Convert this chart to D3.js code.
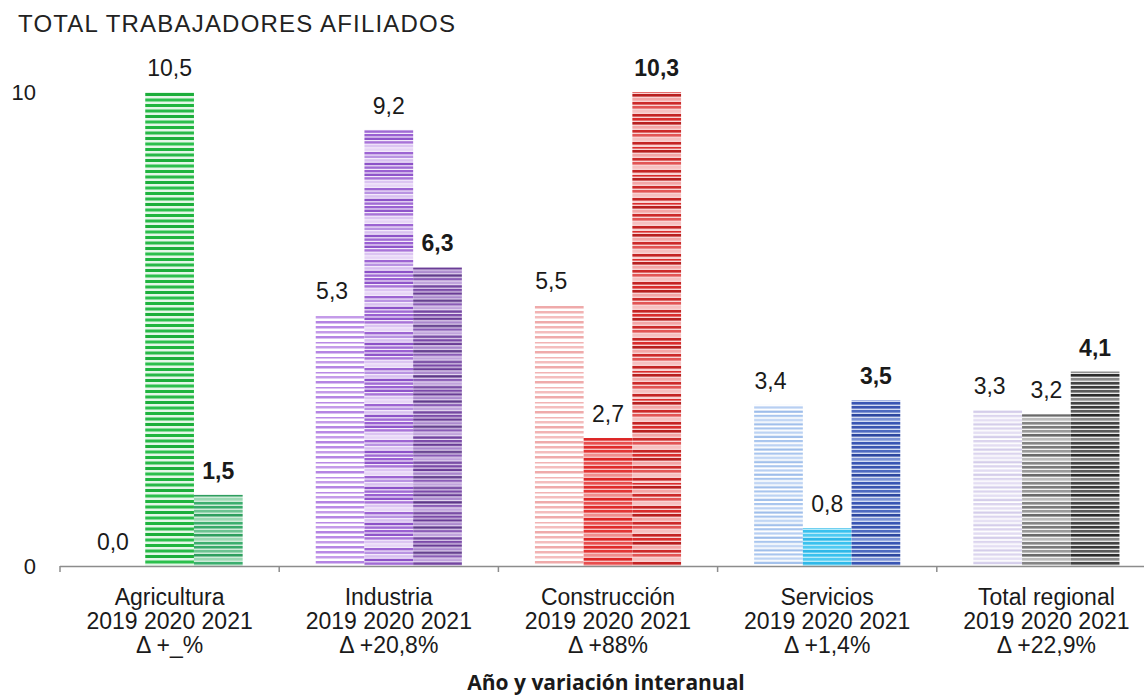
<!DOCTYPE html>
<html>
<head>
<meta charset="utf-8">
<script src="https://cdn.jsdelivr.net/npm/d3@7"></script>
<style>
    body { margin: 0; background: #fff; }
    text { font-family: "Liberation Sans", Arial, sans-serif; fill: #1a1a1a; }
    .title { font-size: 24px; letter-spacing: 1.2px; fill: #222; }
    .val { font-size: 23px; }
    .val.bold { font-weight: bold; }
    .tick-lbl { font-size: 22px; }
    .cat { font-size: 23px; }
    .xtitle { font-family: "Open Sans", sans-serif; font-weight: 700; font-size: 21px; }
</style>
</head>
<body>
<div id="chart"></div>
<script>

// data
var categories = ["Agricultura", "Industria", "Construcción", "Servicios", "Total regional"]
var years = ["2019", "2020", "2021"]
var v2019 = [0.0, 5.3, 5.5, 3.4, 3.3]
var v2020 = [10.5, 9.2, 2.7, 0.8, 3.2]
var v2021 = [1.5, 6.3, 10.3, 3.5, 4.1]
var variations = ["+_%", "+20,8%", "+88%", "+1,4%", "+22,9%"]
var yTicks = [0, 10]

var series = {"2019": v2019, "2020": v2020, "2021": v2021}

// striped fills, one per category/year (background, stripe colours, pitch, stripe height)
var stripes = {
    "0-2020": ["#e4f7e8", ["#1fb53f", "#27b947", "#1cae3b", "#2bbf4c"], 5.5, 3],
    "0-2021": ["#cdebd8", ["#38a96a", "#6cc391", "#2f9e5f", "#9bd8b3", "#3cae6f"], 4, 2.5],
    "1-2019": ["#ffffff", ["#b98ae6", "#c49be9", "#b484e3"], 5, 2.5],
    "1-2020": ["#f3eafb", ["#9a60d2", "#8f55ca", "#a873d8", "#dcc5f2", "#e6d4f6", "#9c64d2", "#b993e2", "#d8c0f0", "#8c52c8", "#a06ad4"], 3.6, 2.4],
    "1-2021": ["#e7dcf2", ["#7b4aa8", "#6a3d96", "#a985cc", "#5e3889", "#8a5cb6", "#c0a3dc", "#71439f"], 3.6, 2.4],
    "2-2019": ["#ffffff", ["#f2b3b3", "#f4bdbd", "#efaaaa"], 5, 2.5],
    "2-2020": ["#f7c2c2", ["#e02a2a", "#e33636", "#f08f8f", "#dc2626", "#e84d4d"], 4, 2.6],
    "2-2021": ["#f9d3d3", ["#d92d2d", "#b81f1f", "#f3a6a6", "#cc2a2a", "#e25555", "#f6c0c0", "#c42424"], 4, 2.6],
    "3-2019": ["#ffffff", ["#a8c5ee", "#b7cff2", "#9dbdea"], 4.2, 2.2],
    "3-2020": ["#b5ebfa", ["#39c1ee", "#4fcaf2", "#2fb8e8"], 4, 2.6],
    "3-2021": ["#d3dbf2", ["#3a54b0", "#4e69c0", "#2d469f", "#7a90d4", "#3a56b4"], 4, 2.6],
    "4-2019": ["#ffffff", ["#dbd4ee", "#e2dcf2", "#d4cdea"], 4.2, 2.4],
    "4-2020": ["#f2f2f2", ["#7a7a7a", "#9a9a9a", "#6a6a6a", "#bcbcbc", "#858585"], 4, 2.6],
    "4-2021": ["#e6e6e6", ["#3a3a3a", "#5a5a5a", "#2c2c2c", "#8a8a8a", "#444444"], 4, 2.6]
}

var W = 1144, H = 698
var svg = d3.select("#chart").append("svg").attr("width", W).attr("height", H)

var x0 = d3.scaleBand().domain(categories).range([60, 1156]).paddingInner(0).paddingOuter(0)
var x1 = d3.scaleBand().domain(years).range([0, x0.bandwidth()]).paddingInner(0).paddingOuter(0.75)
var y = d3.scaleLinear().domain([0, 10]).range([566, 92]).clamp(true)

// patterns
var defs = svg.append("defs")
Object.keys(stripes).forEach(function (key) {
    var s = stripes[key]
    var ph = s[1].length * s[2]
    var p = defs.append("pattern").attr("id", "pat" + key).attr("patternUnits", "userSpaceOnUse")
        .attr("width", 20).attr("height", ph).attr("y", y(0))
    p.append("rect").attr("width", 20).attr("height", ph).attr("fill", s[0])
    s[1].forEach(function (c, i) {
        p.append("rect").attr("x", 0).attr("y", i * s[2]).attr("width", 20).attr("height", s[3]).attr("fill", c)
    })
})

svg.append("text").attr("class", "title").attr("x", 18).attr("y", 32).text("TOTAL  TRABAJADORES  AFILIADOS")

// y tick labels
svg.selectAll(".tick-lbl").data(yTicks).enter().append("text").attr("class", "tick-lbl")
    .attr("x", 36).attr("y", function (d) { return y(d) + 8 }).attr("text-anchor", "end")
    .text(function (d) { return d })

// bars
var groups = svg.selectAll(".cat-g").data(categories).enter().append("g")
    .attr("transform", function (d) { return "translate(" + x0(d) + ",0)" })

groups.each(function (cat, ci) {
    var g = d3.select(this)
    years.forEach(function (yr) {
        var v = series[yr][ci]
        if (v > 0) {
            g.append("rect").attr("x", x1(yr)).attr("width", x1.bandwidth())
                .attr("y", y(v)).attr("height", y(0) - y(v))
                .attr("fill", "url(#pat" + ci + "-" + yr + ")")
        }
        g.append("text").attr("class", "val" + (yr == "2021" ? " bold" : ""))
            .attr("x", x1(yr) + x1.bandwidth() / 2 - (yr == "2019" ? 8 : 0))
            .attr("y", y(v) - 16).attr("text-anchor", "middle")
            .text(d3.format(".1f")(v).replace(".", ","))
    })
})

// x axis line and boundary ticks
svg.append("line").attr("x1", 60).attr("x2", W).attr("y1", y(0) + 0.5).attr("y2", y(0) + 0.5)
    .attr("stroke", "#8c8c8c").attr("stroke-width", 1.5)
var bounds = categories.map(function (c) { return x0(c) })
svg.selectAll(".xtick").data(bounds).enter().append("line")
    .attr("x1", function (d) { return d }).attr("x2", function (d) { return d })
    .attr("y1", y(0)).attr("y2", y(0) + 6).attr("stroke", "#8c8c8c").attr("stroke-width", 1.5)

// category labels
categories.forEach(function (c, i) {
    var cx = x0(c) + x0.bandwidth() / 2
    var t = svg.append("text").attr("class", "cat").attr("text-anchor", "middle")
    t.append("tspan").attr("x", cx).attr("y", 605).text(c)
    t.append("tspan").attr("x", cx).attr("y", 629).text(years.join(" "))
    t.append("tspan").attr("x", cx).attr("y", 653).text("\u0394 " + variations[i])
})

svg.append("text").attr("class", "xtitle").attr("x", 606).attr("y", 690).attr("text-anchor", "middle")
    .text("Año y variación interanual")

</script>
</body>
</html>
